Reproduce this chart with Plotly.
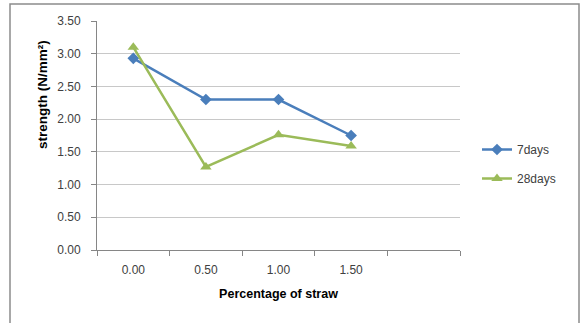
import plotly.graph_objects as go

categories = ["0.00", "0.50", "1.00", "1.50", ""]
days7 = [2.93, 2.30, 2.30, 1.75]
days28 = [3.10, 1.27, 1.76, 1.59]
y_ticks = [0.0, 0.5, 1.0, 1.5, 2.0, 2.5, 3.0, 3.5]

W, H = 582, 323
L, R, T, B = 97, 460, 21, 250

xpos = list(range(len(categories)))

fig = go.Figure()
fig.add_trace(go.Scatter(
    x=xpos[:len(days7)], y=days7, name="7days", mode="lines+markers",
    legendgroup="g1",
    line=dict(color="#4A7EBB", width=2.5),
    marker=dict(symbol="diamond", size=9, color="#4A7EBB"),
))
fig.add_trace(go.Scatter(
    x=xpos[:len(days28)], y=days28, name="28days", mode="lines+markers",
    legendgroup="g2",
    line=dict(color="#9BBB59", width=2.5),
    marker=dict(symbol="triangle-up", size=10, color="#9BBB59"),
))

font_family = "Liberation Sans, Arial, sans-serif"

def px_x(p):
    return (p - L) / (R - L)

def px_y(p):
    return (B - p) / (B - T)

fig.update_layout(
    width=W, height=H,
    margin=dict(l=L, r=W - R, t=T, b=H - B),
    paper_bgcolor="white", plot_bgcolor="white",
    font=dict(family=font_family, size=12, color="#404040"),
    hovermode=False,
    xaxis=dict(
        range=[-0.5, len(categories) - 0.5],
        tickvals=xpos, ticktext=categories,
        ticks="", showgrid=False, zeroline=False,
        showline=True, linecolor="#868686", linewidth=1,
        tickfont=dict(size=12, color="#404040"),
        ticklabelstandoff=9,
        minor=dict(ticks="outside", ticklen=5, tickcolor="#868686",
                   tick0=-0.5, dtick=1, showgrid=False),
        title=dict(text="<b>Percentage of straw</b>", font=dict(size=12.5, color="#000000"), standoff=12),
        fixedrange=True,
    ),
    yaxis=dict(
        range=[0, 3.5], tickvals=y_ticks,
        ticktext=[f"{v:.2f}" for v in y_ticks],
        showgrid=True, gridcolor="#C8C8C8", gridwidth=1,
        zeroline=False, showline=True, linecolor="#868686", linewidth=1,
        ticks="outside", ticklen=5, tickcolor="#868686",
        tickfont=dict(size=12, color="#404040"),
        ticklabelstandoff=8,
        fixedrange=True,
    ),
    legend=dict(
        x=px_x(477), y=px_y(135), xanchor="left", yanchor="top",
        font=dict(size=12, color="#404040"),
        bgcolor="rgba(0,0,0,0)", tracegroupgap=10,
        itemwidth=30,
    ),
    showlegend=True,
    annotations=[dict(
        text="<b>strength (N/mm²)</b>", textangle=-90,
        xref="paper", yref="paper", x=px_x(42), y=px_y(95),
        xanchor="center", yanchor="middle", showarrow=False,
        font=dict(size=13.5, color="#000000"),
    )],
    shapes=[dict(
        type="rect", xref="paper", yref="paper",
        x0=px_x(10), x1=px_x(579), y0=px_y(340), y1=px_y(4),
        line=dict(color="#8C8C8C", width=1.5), fillcolor="rgba(0,0,0,0)",
        layer="below",
    )],
)

fig.write_html(
    "out.html",
    config={"displayModeBar": False, "staticPlot": True},
    post_script="document.body.style.margin='0';document.body.style.overflow='hidden';",
)
